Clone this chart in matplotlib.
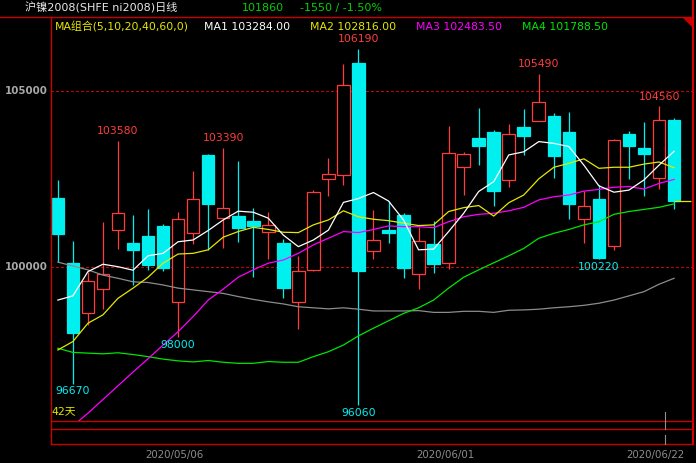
import matplotlib
matplotlib.use("Agg")
import matplotlib.pyplot as plt
import matplotlib.transforms as mtransforms
from matplotlib.patches import Rectangle, Polygon
from matplotlib.lines import Line2D

plt.rcParams['font.family'] = ['DejaVu Sans', 'Noto Sans CJK SC']

# ---------------- data ----------------
opens = [101960, 100100, 98690, 99370, 101030, 100680, 100870, 101160, 98990, 100950,
         103180, 101380, 101440, 101300, 100980, 100680, 98990, 99900, 102490, 102620,
         105800, 100440, 101030, 101470, 99780, 100650, 100100, 102830, 103660, 103830,
         102460, 103980, 104160, 104290, 103830, 101350, 101930, 100580, 103780, 103380,
         102520, 104180]
closes = [100940, 98120, 99580, 99790, 101520, 100480, 100060, 99970, 101360, 101930,
          101790, 101660, 101110, 101170, 101190, 99400, 99880, 102120, 102630, 105170,
          99890, 100760, 100970, 99960, 100720, 100070, 103240, 103200, 103440, 102160,
          103770, 103730, 104680, 103160, 101790, 101720, 100260, 103600, 103440, 103220,
          104170, 101860]
highs = [102470, 100730, 99840, 101270, 103580, 101470, 101650, 101210, 101550, 102720,
         103200, 103390, 103010, 101670, 101560, 100780, 100310, 102180, 103090, 105770,
         106190, 101610, 101880, 101530, 101120, 101290, 104000, 103270, 104520, 103890,
         104060, 104490, 105490, 104370, 104400, 102150, 102320, 103630, 103860, 104120,
         104560, 104230]
lows = [100130, 96670, 98330, 98800, 100510, 99480, 99910, 99890, 98000, 100650,
        100480, 100520, 100710, 99720, 100230, 99120, 98240, 99880, 102020, 102330,
        96060, 100230, 100680, 99690, 99370, 99830, 99940, 102050, 102880, 101740,
        102280, 103190, 104140, 102510, 101370, 100680, 100220, 100480, 102490, 102020,
        102220, 101630]

ma1 = [99050, 99170, 99860, 100070, 100000, 99900, 100310, 100380, 100710, 100760,
       101030, 101330, 101580, 101550, 101380, 100900, 100570, 100760, 101040, 101830,
       101940, 102110, 101870, 101330, 100480, 100500, 101000, 101520, 102140, 102420,
       103180, 103270, 103560, 103510, 103420, 102890, 102300, 102120, 102180, 102470,
       102890, 103284]
ma2 = [97630, 97870, 98390, 98630, 99100, 99390, 99700, 100100, 100360, 100380,
       100480, 100840, 101000, 101120, 101060, 100980, 100970, 101190, 101330, 101590,
       101420, 101350, 101310, 101240, 101170, 101190, 101570, 101680, 101740, 101440,
       101820, 102040, 102500, 102830, 102940, 103070, 102800, 102830, 102830, 102920,
       102980, 102816]
ma3 = [None, 95470, 95830, 96220, 96610, 97000, 97380, 97770, 98150, 98580,
       99050, 99360, 99700, 99910, 100100, 100190, 100380, 100620, 100810, 101000,
       100970, 101060, 101160, 101140, 101140, 101110, 101280, 101420, 101490, 101520,
       101590, 101690, 101900, 101990, 102040, 102150, 102200, 102260, 102280, 102210,
       102370, 102483.5]
ma4 = [97680, 97560, 97540, 97520, 97550, 97500, 97440, 97370, 97320, 97290,
       97330, 97280, 97250, 97250, 97300, 97280, 97280, 97440, 97580, 97770,
       98030, 98250, 98460, 98670, 98830, 99050, 99390, 99700, 99910, 100110,
       100310, 100520, 100810, 100950, 101060, 101190, 101280, 101490, 101570, 101630,
       101690, 101788.5]
ma5 = [100130, 100020, 99910, 99760, 99670, 99570, 99550, 99480, 99390, 99340,
       99290, 99240, 99150, 99070, 99000, 98940, 98860, 98830, 98800, 98830,
       98790, 98740, 98740, 98740, 98750, 98700, 98700, 98730, 98730, 98700,
       98760, 98770, 98790, 98830, 98860, 98900, 98960, 99050, 99170, 99290,
       99500, 99670]

hi_marks = [4, 11, 20, 32, 40]
lo_marks = [1, 8, 20, 36]
date_idx = [9, 27, 41]
date_labels = ['2020/05/06', '2020/06/01', '2020/06/22']
price_ticks = [105000, 100000]

RED = '#ff3c3c'
CYAN = '#00f0f0'
BORDER = '#c80000'

W, H = 696, 463


def fx(px):
    return px / W


def fy(py):
    return 1 - py / H


fig = plt.figure(figsize=(W / 100, H / 100), dpi=100, facecolor='black')
ax = fig.add_axes([fx(50.5), fy(420.7), fx(692.7) - fx(50.5), fy(17) - fy(420.7)])
ax.set_facecolor('black')
ax.set_xlim(-0.49, 42.24)
ax.set_ylim(95617, 107106)
for s in ax.spines.values():
    s.set_visible(False)
ax.set_xticks([])
ax.set_yticks([])

# dashed price grid
for p in price_ticks:
    ax.axhline(p, color='#c80000', lw=0.75, ls=(0, (2.7, 2.7)), zorder=1,
               antialiased=False)

# candles
for i, (o, c, h, l) in enumerate(zip(opens, closes, highs, lows)):
    up = c >= o
    col = RED if up else CYAN
    ax.vlines(i, l, h, color=col, lw=0.9, zorder=2)
    ax.add_patch(Rectangle((i - 0.42, min(o, c)), 0.84, max(abs(c - o), 15),
                           facecolor='black' if up else CYAN, edgecolor=col,
                           lw=0.9, zorder=3))

# moving averages
xs = list(range(len(closes)))
ax.plot(xs, ma5, color='#8c8c8c', lw=0.9, zorder=4)
ax.plot(xs, ma4, color='#00e600', lw=0.9, zorder=4)
ax.plot(xs, [float('nan') if v is None else v for v in ma3], color='#ff00ff', lw=0.9, zorder=4)
ax.plot(xs, ma2, color='#e6e600', lw=0.9, zorder=4)
ax.plot(xs, ma1, color='white', lw=0.9, zorder=4)

# last price line
ax.hlines(closes[-1], len(closes) - 1, 42.1, color='#e6e600', lw=0.9, zorder=4)

# high / low labels
for i in hi_marks:
    ax.annotate(str(highs[i]), (i, highs[i]), xytext=(0, 7), textcoords='offset points',
                ha='center', va='center', color=RED, fontsize=7.8, zorder=5)
for i in lo_marks:
    ax.annotate(str(lows[i]), (i, lows[i]), xytext=(0, -5.5), textcoords='offset points',
                ha='center', va='center', color=CYAN, fontsize=7.8, zorder=5)

# frame lines
def fline(x0, y0, x1, y1, color=BORDER, lw=1.0):
    fig.add_artist(Line2D([fx(x0), fx(x1)], [fy(y0), fy(y1)], color=color, lw=lw))


fline(0, 17, 692.7, 17)
fline(50.5, 17, 50.5, 444.3)
fline(692.7, 0, 692.7, 444.3, color='#e00000', lw=1.4)
for yy in (420.7, 429, 444.3):
    fline(50.5, yy, 692.7, yy)
fig.add_artist(Polygon([[fx(682.5), fy(18)], [fx(692), fy(18)], [fx(692), fy(27)]],
                       closed=True, facecolor=BORDER, edgecolor='none'))
fline(665, 411.7, 665, 429, color='#909090', lw=0.8)
fline(665, 435, 665, 444, color='#909090', lw=0.8)

# y labels
for p in price_ticks:
    yp = 266.7 - (p - 100000) / 28.46
    fig.text(fx(47.5), fy(yp), str(p), ha='right', va='center', color='#a8a8a8',
             fontsize=7.4, fontweight='bold')

# date labels
tr = mtransforms.blended_transform_factory(ax.transData, fig.transFigure)
for i, lab in zip(date_idx, date_labels):
    ax.text(i + 0.72, fy(455), lab, transform=tr, ha='right', va='center',
            color='#8c8c8c', fontsize=7.4, clip_on=False)

# header
fig.text(fx(25), fy(8), '沪镍2008(SHFE ni2008)日线', ha='left', va='center',
         color='#e8e8e8', fontsize=8)
fig.text(fx(241.5), fy(8), '101860', ha='left', va='center', color='#00d000', fontsize=8)
fig.text(fx(299.5), fy(8), '-1550 / -1.50%', ha='left', va='center', color='#00d000', fontsize=8)

legend_items = [
    (55, 'MA组合(5,10,20,40,60,0)', '#e6e600'),
    (204, 'MA1 103284.00', 'white'),
    (310.5, 'MA2 102816.00', '#e6e600'),
    (416, 'MA3 102483.50', '#ff00ff'),
    (522.5, 'MA4 101788.50', '#00e600'),
]
for x0, txt, col in legend_items:
    fig.text(fx(x0), fy(26.5), txt, ha='left', va='center', color=col, fontsize=7.8)

fig.text(fx(51.5), fy(411.5), '42天', ha='left', va='center', color='#e6e600', fontsize=7.8)

fig.savefig('out.png', dpi=100, facecolor='black')
